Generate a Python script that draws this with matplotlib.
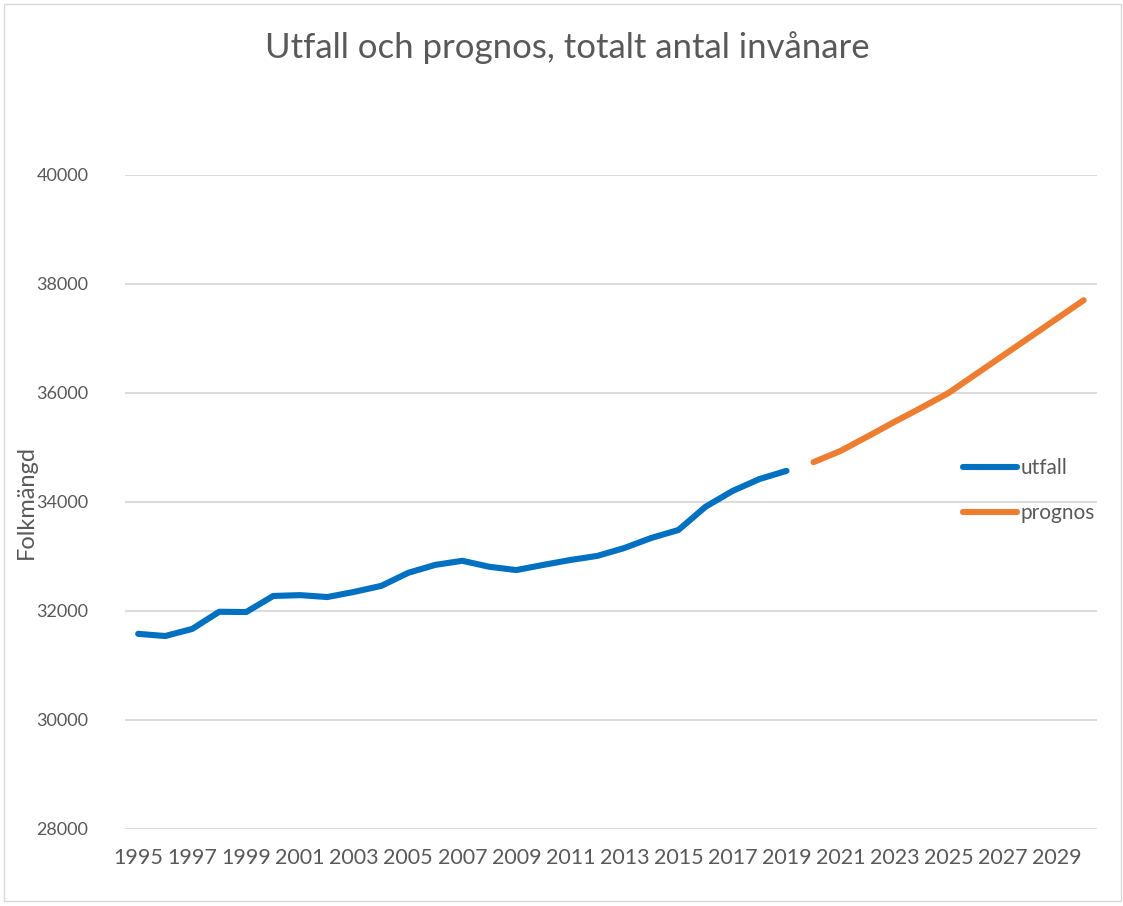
import matplotlib.pyplot as plt
from matplotlib.patches import Rectangle

plt.rcParams['font.family'] = ['Lato', 'DejaVu Sans']

# utfall 1995-2019
years_utfall = list(range(1995, 2020))
utfall = [31580, 31540, 31670, 31985, 31980, 32275, 32290, 32255, 32350, 32460,
          32700, 32845, 32920, 32810, 32750, 32845, 32935, 33010, 33155, 33340,
          33485, 33910, 34200, 34420, 34570]

# prognos 2020-2030
years_prognos = list(range(2020, 2031))
prognos = [34730, 34935, 35200, 35470, 35730, 36000, 36340, 36680, 37020, 37360, 37700]

tick_years = list(range(1995, 2030, 2))

grey = '#595959'

fig = plt.figure(figsize=(11.23, 9.06), dpi=100)
ax = fig.add_axes([0.111, 0.085, 0.866, 0.722])

ax.plot(years_utfall, utfall, color='#0070C0', linewidth=4.4, solid_capstyle='round', label='utfall')
ax.plot(years_prognos, prognos, color='#ED7D31', linewidth=4.4, solid_capstyle='round', label='prognos')

ax.set_xlim(1994.5, 2030.5)
ax.set_ylim(28000, 40000)
ax.set_yticks(range(28000, 40001, 2000))
ax.set_xticks(tick_years)
ax.set_xticklabels([str(y) for y in tick_years])
ax.grid(axis='y', color='#D9D9D9', linewidth=1.3)
ax.set_axisbelow(True)
for s in ax.spines.values():
    s.set_visible(False)
ax.tick_params(length=0, colors=grey)
ax.tick_params(axis='x', labelsize=15.5, pad=14)
ax.tick_params(axis='y', labelsize=13, pad=26)

ax.set_ylabel('Folkmängd', fontsize=17, color=grey)
ax.yaxis.set_label_coords(-0.09, 0.5)
fig.text(0.505, 0.947, 'Utfall och prognos, totalt antal invånare', ha='center', va='center',
         fontsize=25, color=grey)

leg = ax.legend(loc='center left', bbox_to_anchor=(0.862, 0.517), frameon=False, fontsize=15,
                handlelength=2.6, handletextpad=0.15, labelspacing=1.2, borderaxespad=0,
                borderpad=0)
for t in leg.get_texts():
    t.set_color(grey)

fig.patches.append(Rectangle((0.004, 0.006), 0.994, 0.99, transform=fig.transFigure,
                             fill=False, edgecolor='#D9D9D9', linewidth=1))

fig.savefig('out.png', dpi=100)
